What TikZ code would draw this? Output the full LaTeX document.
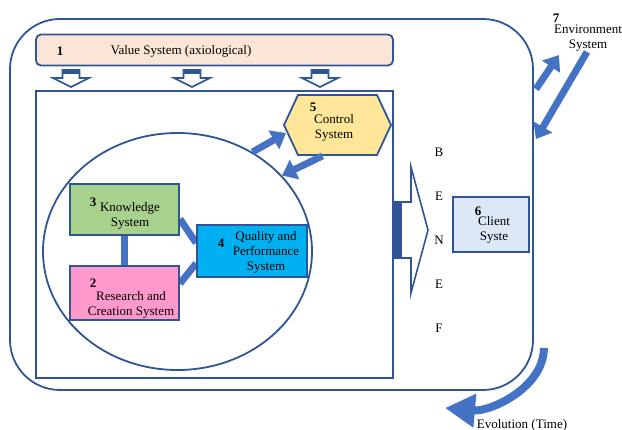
\documentclass[tikz,border=0pt]{standalone}
\usepackage{fontspec}
\setmainfont{Liberation Serif}
\usetikzlibrary{arrows.meta,shapes.geometric,shapes.symbols,calc}

\definecolor{edge}{HTML}{2F5597}
\definecolor{flow}{HTML}{4472C4}
\definecolor{valuefill}{HTML}{FBE5D6}
\definecolor{knowfill}{HTML}{A9D18E}
\definecolor{resfill}{HTML}{FF99CC}
\definecolor{qualfill}{HTML}{00B0F0}
\definecolor{ctrlfill}{HTML}{FFE699}
\definecolor{clientfill}{HTML}{DCE8F6}

\tikzset{
  frameline/.style={draw=edge, line width=1.8pt},
  sysbox/.style={draw=edge, line width=1.8pt, inner sep=0pt, rectangle},
  txt/.style={inner sep=0pt, font=\fontsize{13}{15}\selectfont, align=center},
  num/.style={inner sep=0pt, font=\fontsize{13}{15}\selectfont\bfseries},
  bar/.style={draw=flow, line width=7pt},
  blockarrow/.style={draw=flow, line width=7pt,
    -{Triangle[width=21pt,length=14pt]}},
  hollowdown/.pic={
    \draw[edge, line width=1.6pt, fill=white, line join=miter]
      (-8.5,0) -- (8.5,0) -- (8.5,8) -- (18,8) -- (0,17) -- (-18,8) -- (-8.5,8) -- cycle;
    \fill[edge] (-8.5,0) rectangle (8.5,4);
  }
}

\begin{document}
\begin{tikzpicture}[x=1pt,y=-1pt]
\useasboundingbox (0,0) rectangle (622,430);

% outer environment frame and inner organisation frame
\node[frameline, rounded corners=50pt, minimum width=523pt, minimum height=371pt] (frame) at (271.5,204.5) {};
\node[frameline, minimum width=357pt, minimum height=287pt] (core) at (214.5,234.5) {};

% value system bar
\node[sysbox, fill=valuefill, rounded corners=5pt, minimum width=357pt, minimum height=31pt] (value) at (214.5,50) {};
\node[num] (n1) at (60,51) {1};
\node[txt] (valuetxt) at (181,51) {Value System (axiological)};

% value flows into the organisation
\foreach \px in {71,192,320} \pic at (\px,70) {hollowdown};

% inner circle of subsystems
\node[draw=edge, line width=1.8pt, ellipse, minimum width=269pt, minimum height=237pt, inner sep=0pt] (orbit) at (177.5,251.5) {};

% links between subsystems
\node[sysbox, fill=knowfill, minimum width=109pt, minimum height=51pt] (know) at (124.5,209.5) {};
\node[sysbox, fill=resfill, minimum width=109pt, minimum height=54pt] (res) at (124.5,293) {};
\node[sysbox, fill=qualfill, minimum width=110pt, minimum height=52pt] (qual) at (252,251) {};
\draw[bar] (know.south) -- (res.north);
\draw[bar] ($(know.north east)!0.68!(know.south east)$) -- ($(qual.north west)!0.35!(qual.south west)$);
\draw[bar] ($(res.north east)!0.33!(res.south east)$) -- ($(qual.north west)!0.73!(qual.south west)$);
% redraw boxes over the link ends
\node[sysbox, fill=knowfill, minimum width=109pt, minimum height=51pt] at (know) {};
\node[sysbox, fill=resfill, minimum width=109pt, minimum height=54pt] at (res) {};
\node[sysbox, fill=qualfill, minimum width=110pt, minimum height=52pt] at (qual) {};

\node[num] (n3) at (93,202) {3};
\node[txt] (knowtxt) at (130,216) {Knowledge\\System};
\node[num] (n2) at (93,283) {2};
\node[txt] (restxt) at (131,305) {Research and\\Creation System};
\node[num] (n4) at (221,243) {4};
\node[txt] (qualtxt) at (266,252) {Quality and\\Performance\\System};

% control system
\node[signal, signal to=west and east, signal pointer angle=130, draw=edge, line width=1.8pt,
      fill=ctrlfill, minimum width=107pt, minimum height=60pt, inner sep=0pt] (ctrl) at (337.5,125) {};
\node[num] (n5) at (313,107) {5};
\node[txt] (ctrltxt) at (334,127.5) {Control\\System};
\draw[blockarrow] (orbit.53) -- ($(ctrl.west)+(3,8)$);
\draw[blockarrow] ($(ctrl.south)+(-15,0)$) -- (orbit.36);

% benefit output
\draw[edge, line width=1.6pt, fill=white, line join=miter]
  (395,202) -- (411,202) -- (411,167) -- (428,230) -- (411,293) -- (411,258) -- (395,258) -- cycle;
\fill[edge] (395,202) rectangle (402,258);
\node[txt] (b1) at (439,152) {B};
\node[txt] (b2) at (439,196) {E};
\node[txt] (b3) at (439,240) {N};
\node[txt] (b4) at (439,284) {E};
\node[txt] (b5) at (439,328) {F};

% client system
\node[sysbox, fill=clientfill, minimum width=76pt, minimum height=55pt] (client) at (491,224.5) {};
\node[num] (n6) at (478,211) {6};
\node[txt] (clienttxt) at (494,230) {Client\\Syste};

% environment
\node[num] (n7) at (556,18) {7};
\node[txt] (envtxt) at (588,38.5) {Environment\\System};
\draw[blockarrow] ($(frame.north east)+(2,71)$) -- ($(frame.north east)+(25,37)$);
\draw[blockarrow] ($(envtxt.south)+(-1,0)$) -- ($(frame.north east)+(2,121)$);

% evolution over time
\coordinate (evstart) at ($(frame.south east)+(10,-43)$);
\coordinate (evend) at (445,408);
\draw[draw=flow, line width=8pt, -{Triangle[width=32pt,length=30pt]}]
  (evstart) .. controls +(0,40) and +(45,4) .. (evend);
\node[txt] (evtxt) at (522,425) {Evolution (Time)};
\end{tikzpicture}
\end{document}
